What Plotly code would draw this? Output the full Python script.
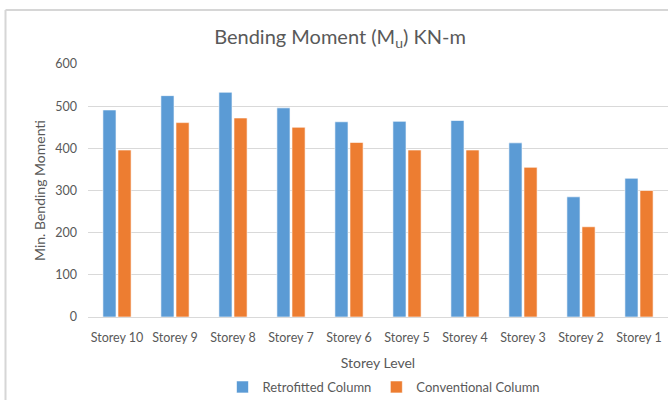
import plotly.graph_objects as go

categories = ["Storey 10", "Storey 9", "Storey 8", "Storey 7", "Storey 6",
              "Storey 5", "Storey 4", "Storey 3", "Storey 2", "Storey 1"]
retrofitted = [491, 525, 533, 496, 463, 464, 466, 413, 285, 329]
conventional = [396, 461, 472, 450, 414, 396, 396, 355, 214, 300]
y_ticks = [0, 100, 200, 300, 400, 500, 600]

FONT = "Lato"
GREY = "#595959"

fig = go.Figure()
fig.add_trace(go.Bar(name="Retrofitted Column", x=categories, y=retrofitted,
                     marker=dict(color="#5b9bd5", line=dict(color="rgba(255,255,255,0.6)", width=1))))
fig.add_trace(go.Bar(name="Conventional Column", x=categories, y=conventional,
                     marker=dict(color="#ed7d31", line=dict(color="rgba(255,255,255,0.6)", width=1))))

L, R, T, B = 88, 0, 64, 83
W, H = 668, 400
pw, ph = W - L - R, H - T - B

fig.update_layout(
    width=W, height=H,
    margin=dict(l=L, r=R, t=T, b=B, pad=0, autoexpand=False),
    paper_bgcolor="white", plot_bgcolor="white",
    barmode="group", bargap=0.48, bargroupgap=0.13,
    font=dict(family=FONT, color=GREY, size=12),
    title=dict(text="Bending Moment (M<sub>u</sub>) KN-m", x=340 / W, xanchor="center",
               y=1 - 37 / H, yanchor="middle", font=dict(size=20, color=GREY, family=FONT)),
    xaxis=dict(title=dict(text="Storey Level", font=dict(size=14, color=GREY), standoff=14),
               showgrid=False, showline=False, ticks="", tickfont=dict(size=12.5, color=GREY),
               ticklabelstandoff=11, automargin=False),
    yaxis=dict(title=dict(text="Min. Bending Momenti", font=dict(size=14, color=GREY), standoff=6),
               range=[0, 600], tickvals=y_ticks, showgrid=True, gridcolor="#d9d9d9", gridwidth=1,
               zeroline=True, zerolinecolor="#d9d9d9", zerolinewidth=1,
               ticks="", tickfont=dict(size=12.5, color=GREY), ticklabelstandoff=10, automargin=False),
    legend=dict(orientation="h", x=(384 - L) / pw, xanchor="center",
                y=(H - B - 387) / ph, yanchor="middle",
                font=dict(size=13, color=GREY), itemwidth=30, traceorder="normal"),
    showlegend=True,
)

# chart frame (left and top borders visible)
xl = (5.5 - L) / pw
ytop = (H - B - 10) / ph
fig.add_shape(type="line", xref="paper", yref="paper", x0=xl, x1=(W + 20 - L) / pw,
              y0=ytop, y1=ytop, line=dict(color="#d6d6d6", width=2), layer="above")
fig.add_shape(type="line", xref="paper", yref="paper", x0=xl, x1=xl,
              y0=ytop, y1=(H - B - (H + 20)) / ph, line=dict(color="#d6d6d6", width=2), layer="above")

fig.write_html("out.html", config={"displayModeBar": False},
               post_script="document.body.style.margin='0';document.body.style.overflow='hidden';")
